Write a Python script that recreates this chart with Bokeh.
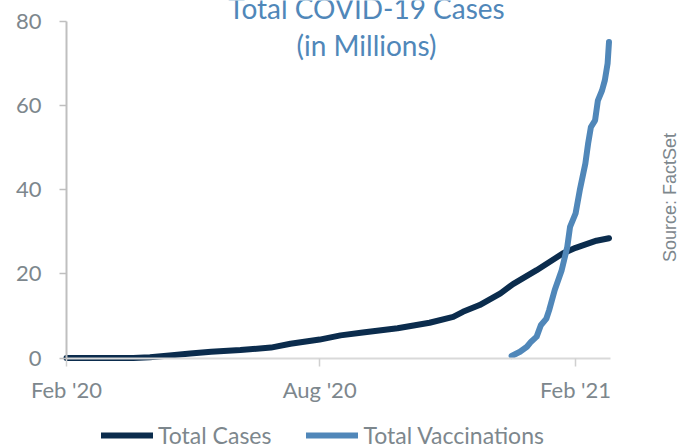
import math
import pandas as pd
from bokeh.plotting import figure
from bokeh.models import (Range1d, FixedTicker, DatetimeTickFormatter, Label,
                          Legend, LegendItem)
from bokeh.embed import file_html
from bokeh.resources import INLINE

# --- data (millions) ---
case_dates = ["2020-02-01", "2020-03-01", "2020-03-20", "2020-04-01", "2020-04-15",
              "2020-04-30", "2020-05-15", "2020-06-05", "2020-06-27", "2020-07-11",
              "2020-08-01", "2020-08-16", "2020-09-01", "2020-09-26", "2020-10-19",
              "2020-11-05", "2020-11-12", "2020-11-24", "2020-12-09", "2020-12-18",
              "2021-01-04", "2021-01-23", "2021-02-01", "2021-02-16", "2021-02-25"]
case_values = [0.0, 0.0, 0.02, 0.2, 0.6,
               1.1, 1.5, 1.9, 2.5, 3.4,
               4.4, 5.4, 6.1, 7.1, 8.4,
               9.8, 11.0, 12.6, 15.4, 17.6,
               20.9, 24.9, 26.2, 27.9, 28.5]

vacc_dates = ["2020-12-17", "2020-12-23", "2020-12-28", "2020-12-31", "2021-01-04",
              "2021-01-07", "2021-01-11", "2021-01-13", "2021-01-17", "2021-01-22",
              "2021-01-26", "2021-01-28", "2021-02-01", "2021-02-04", "2021-02-08",
              "2021-02-10", "2021-02-12", "2021-02-15", "2021-02-17", "2021-02-20",
              "2021-02-22", "2021-02-24", "2021-02-25"]
vacc_values = [0.5, 1.5, 2.7, 3.9, 5.1,
               7.8, 9.4, 11.4, 16.2, 20.9,
               26.4, 31.2, 34.4, 39.9, 46.2,
               51.0, 54.9, 56.5, 61.2, 63.6,
               66.0, 70.0, 75.1]

x_tick_dates = ["2020-02-01", "2020-08-01", "2021-02-01"]
y_ticks = [0, 20, 40, 60, 80]

CASES_COLOR = "#0b2c4d"
VACC_COLOR = "#5087b9"
TEXT_GRAY = "#7d878d"
FONT = "Lato"

W, H = 677, 446


def ms(ts):
    return pd.Timestamp(ts).value / 1e6


cd = pd.to_datetime(case_dates)
vd = pd.to_datetime(vacc_dates)
axis_start = pd.Timestamp("2020-02-01")
axis_end = pd.Timestamp("2021-02-26")

# The plot area fills the whole canvas; axes sit at fixed data locations.
px_per_day = 1.391
left_px, zero_px, top_px = 66, 357.6, 21
x_lo = axis_start - pd.Timedelta(days=left_px / px_per_day)
x_hi = x_lo + pd.Timedelta(days=W / px_per_day)
px_per_unit = (zero_px - top_px) / 80
y_hi = 80 + top_px / px_per_unit
y_lo = -(H - zero_px) / px_per_unit

p = figure(width=W, height=H, x_axis_type="datetime",
           output_backend="svg", toolbar_location=None,
           x_range=Range1d(ms(x_lo), ms(x_hi)), y_range=Range1d(y_lo, y_hi),
           min_border=0, min_border_left=0, min_border_right=0,
           min_border_top=0, min_border_bottom=0)
p.outline_line_color = None
p.grid.visible = False
p.background_fill_color = "white"
p.border_fill_color = "white"

# y axis
ya = p.yaxis[0]
ya.fixed_location = ms(axis_start)
ya.ticker = FixedTicker(ticks=y_ticks)
ya.bounds = (0, 80)
ya.axis_line_color = "#bfbfbf"
ya.axis_line_width = 2
ya.major_tick_line_color = "#bfbfbf"
ya.major_tick_line_width = 1.5
ya.major_tick_out = 7
ya.major_tick_in = 0
ya.minor_tick_line_color = None
ya.major_label_standoff = 18
ya.major_label_text_font = FONT
ya.major_label_text_font_size = "22px"
ya.major_label_text_color = TEXT_GRAY

# x axis on the zero line
xa = p.xaxis[0]
xa.fixed_location = 0
xa.ticker = FixedTicker(ticks=[ms(d) for d in x_tick_dates])
fmt = "%b '%y"
xa.formatter = DatetimeTickFormatter(years=fmt, months=fmt, days=fmt, hours=fmt,
                                     minutes=fmt, seconds=fmt, milliseconds=fmt,
                                     microseconds=fmt, minsec=fmt, hourmin=fmt)
xa.bounds = (ms(axis_start), ms(axis_end))
xa.axis_line_color = "#d9d9d9"
xa.axis_line_width = 2
xa.major_tick_line_color = "#d0d0d0"
xa.major_tick_line_width = 1.5
xa.major_tick_out = 8
xa.major_tick_in = 0
xa.minor_tick_line_color = None
xa.major_label_standoff = 10
xa.major_label_text_font = FONT
xa.major_label_text_font_size = "22px"
xa.major_label_text_color = TEXT_GRAY

r_cases = p.line(cd, case_values, line_color=CASES_COLOR, line_width=6,
                 line_cap="round", line_join="round")
r_vacc = p.line(vd, vacc_values, line_color=VACC_COLOR, line_width=6,
                line_cap="round", line_join="round")

# title, two centred lines (screen y measured up from the bottom edge);
# the first line runs off the top edge
for txt, y in [("Total COVID-19 Cases", H - 7), ("(in Millions)", H - 44)]:
    p.add_layout(Label(x=366, y=y, x_units="screen", y_units="screen", text=txt,
                       text_align="center", text_baseline="alphabetic",
                       text_font=FONT, text_font_size="28px",
                       text_color=VACC_COLOR))

# source note, rotated on the right edge
p.add_layout(Label(x=669, y=H - 197, x_units="screen", y_units="screen",
                   text="Source: FactSet", angle=math.pi / 2,
                   text_align="center", text_baseline="middle",
                   text_font="Liberation Sans", text_font_size="18px",
                   text_color=TEXT_GRAY))

legend = Legend(items=[LegendItem(label="Total Cases", renderers=[r_cases]),
                       LegendItem(label="Total Vaccinations", renderers=[r_vacc])],
                orientation="horizontal", location=(101, -3),
                glyph_width=52, glyph_height=20, label_height=20,
                label_standoff=5, spacing=35, padding=0, margin=0,
                border_line_alpha=0, background_fill_alpha=0,
                label_text_font=FONT, label_text_font_size="23px",
                label_text_color=TEXT_GRAY, label_text_baseline="middle")
p.add_layout(legend)

open("out.html", "w").write(file_html(p, INLINE))
